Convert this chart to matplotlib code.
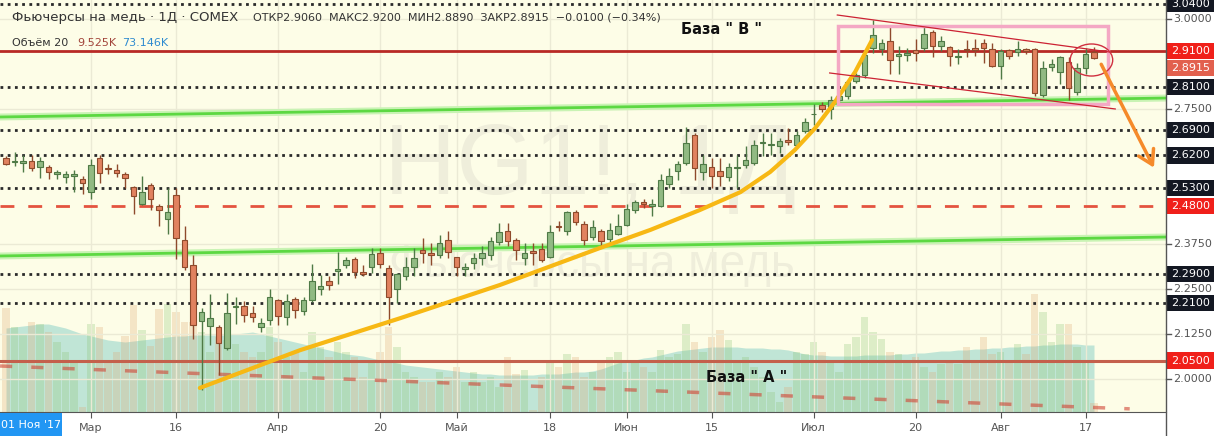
import matplotlib
matplotlib.use("Agg")
import matplotlib.pyplot as plt
import matplotlib.transforms as mtransforms
from matplotlib.patches import Rectangle, Ellipse, FancyArrowPatch
from matplotlib.lines import Line2D

# ---------------- data ----------------
opens = [2.613,2.602,2.600,2.604,2.588,2.588,2.568,2.561,2.564,2.555,
         2.519,2.613,2.585,2.579,2.568,2.532,2.486,2.538,2.479,2.442,
         2.509,2.384,2.315,2.160,2.146,2.144,2.085,2.200,2.201,2.183,
         2.142,2.164,2.218,2.171,2.220,2.188,2.218,2.248,2.271,2.300,
         2.316,2.332,2.297,2.311,2.350,2.307,2.249,2.284,2.309,2.356,
         2.348,2.344,2.385,2.339,2.305,2.321,2.334,2.343,2.379,2.411,
         2.384,2.334,2.355,2.360,2.339,2.425,2.411,2.462,2.429,2.392,
         2.409,2.388,2.403,2.428,2.467,2.491,2.480,2.480,2.540,2.576,
         2.599,2.677,2.574,2.587,2.577,2.560,2.584,2.592,2.599,2.654,
         2.648,2.645,2.664,2.648,2.687,2.734,2.760,2.749,2.774,2.785,
         2.826,2.842,2.919,2.916,2.937,2.895,2.898,2.913,2.919,2.963,
         2.924,2.922,2.892,2.916,2.919,2.933,2.916,2.869,2.913,2.907,
         2.916,2.916,2.787,2.865,2.851,2.880,2.796,2.862,2.906]
highs = [2.617,2.629,2.622,2.622,2.615,2.594,2.580,2.578,2.580,2.564,
         2.611,2.622,2.596,2.596,2.574,2.536,2.564,2.544,2.484,2.530,
         2.530,2.424,2.343,2.196,2.236,2.148,2.239,2.227,2.215,2.201,
         2.167,2.248,2.222,2.236,2.227,2.227,2.317,2.287,2.286,2.353,
         2.339,2.339,2.316,2.362,2.362,2.316,2.293,2.339,2.364,2.390,
         2.376,2.399,2.409,2.339,2.322,2.348,2.367,2.392,2.432,2.432,
         2.390,2.376,2.376,2.376,2.427,2.438,2.466,2.469,2.438,2.441,
         2.416,2.432,2.457,2.485,2.497,2.499,2.499,2.569,2.585,2.605,
         2.700,2.682,2.622,2.613,2.613,2.599,2.622,2.645,2.664,2.682,
         2.682,2.668,2.696,2.687,2.724,2.762,2.767,2.785,2.790,2.828,
         2.849,2.905,2.996,2.944,2.978,2.924,2.919,2.944,2.976,2.969,
         2.953,2.924,2.915,2.940,2.944,2.944,2.933,2.915,2.916,2.937,
         2.919,2.919,2.883,2.887,2.896,2.892,2.876,2.919,2.920]
lows = [2.592,2.590,2.574,2.576,2.557,2.555,2.555,2.542,2.518,2.512,
        2.499,2.544,2.569,2.559,2.530,2.456,2.482,2.468,2.424,2.401,
        2.332,2.301,2.111,1.968,2.093,2.010,2.079,2.153,2.156,2.156,
        2.130,2.150,2.150,2.148,2.167,2.178,2.213,2.232,2.246,2.262,
        2.307,2.279,2.286,2.293,2.307,2.149,2.209,2.274,2.284,2.321,
        2.316,2.334,2.334,2.286,2.284,2.305,2.316,2.330,2.371,2.367,
        2.330,2.316,2.316,2.325,2.334,2.409,2.399,2.427,2.371,2.385,
        2.367,2.380,2.399,2.425,2.459,2.475,2.451,2.478,2.529,2.552,
        2.594,2.552,2.552,2.529,2.534,2.548,2.529,2.585,2.594,2.617,
        2.622,2.626,2.650,2.645,2.682,2.705,2.740,2.722,2.766,2.778,
        2.820,2.835,2.905,2.898,2.846,2.846,2.883,2.883,2.910,2.892,
        2.910,2.869,2.874,2.892,2.896,2.878,2.865,2.833,2.887,2.896,
        2.901,2.785,2.783,2.855,2.819,2.773,2.787,2.846,2.889]
closes = [2.596,2.603,2.604,2.585,2.605,2.574,2.575,2.568,2.569,2.544,
          2.593,2.571,2.581,2.571,2.556,2.507,2.519,2.499,2.468,2.462,
          2.390,2.311,2.150,2.185,2.169,2.099,2.181,2.202,2.176,2.171,
          2.155,2.227,2.173,2.216,2.190,2.217,2.271,2.258,2.259,2.304,
          2.330,2.296,2.291,2.346,2.319,2.228,2.290,2.311,2.336,2.350,
          2.344,2.376,2.353,2.311,2.311,2.334,2.348,2.381,2.407,2.381,
          2.358,2.348,2.348,2.330,2.407,2.420,2.462,2.434,2.385,2.420,
          2.381,2.413,2.423,2.471,2.491,2.486,2.485,2.552,2.562,2.596,
          2.654,2.585,2.596,2.564,2.564,2.587,2.587,2.606,2.648,2.657,
          2.651,2.661,2.657,2.677,2.712,2.736,2.748,2.774,2.785,2.824,
          2.842,2.898,2.955,2.933,2.885,2.901,2.904,2.905,2.958,2.924,
          2.937,2.895,2.896,2.912,2.913,2.919,2.869,2.910,2.895,2.916,
          2.910,2.794,2.862,2.875,2.892,2.807,2.862,2.901,2.8915]
volume_k = [104,85,78,90,88,80,70,60,50,5,
            88,85,52,60,76,107,82,66,103,108,
            100,90,90,80,60,75,72,68,60,55,
            60,85,70,55,60,40,80,65,55,70,
            60,55,35,50,60,85,65,40,35,30,
            30,40,35,45,30,40,30,35,25,55,
            38,42,2,35,50,45,58,55,35,40,
            50,55,60,40,50,45,40,62,55,58,
            88,70,60,75,82,72,50,55,45,35,
            20,10,25,60,58,70,60,50,40,68,
            75,95,80,73,60,58,50,55,45,40,
            48,50,48,65,50,75,58,60,50,68,
            58,118,100,70,88,88,65,52,8.7]
volume_ma_k = [84,85,86,87,88,88,86,84,81,78,
               76,74,72,71,70,71,72,73,74,75,
               76,76,77,77,77,77,77,78,79,80,
               78,76,74,72,70,68,66,64,62,60,
               58,57,56,54,52,51,49,47,46,45,
               44,43,42,41,40,39,38,38,37,37,
               37,37,37,38,38,38,39,40,40,41,
               43,46,49,51,52,54,55,57,59,61,
               62,63,64,65,65,65,65,64,64,64,
               63,63,62,60,58,57,57,56,56,56,
               56,57,57,57,57,58,58,59,59,60,
               61,61,62,62,63,63,64,64,65,65,
               66,66,67,67,68,68,68,67,67]

tick_pos = [10, 20, 32, 44, 53, 64, 73, 83, 95, 107, 117, 127]
tick_labels = ['Мар', '16', 'Апр', '20', 'Май', '18', 'Июн', '15', 'Июл', '20', 'Авг', '17']

dotted_levels = [3.04, 2.81, 2.69, 2.62, 2.53, 2.29, 2.21]
red_solid_levels = [2.91, 2.05]
red_dashed_levels = [2.48]
grid_prices = [3.0, 2.75, 2.375, 2.25, 2.125, 2.0]

# drawings (index, price)
green_upper = ([-0.7, 136.5], [2.7267, 2.7794])
green_lower = ([-0.7, 136.5], [2.3406, 2.3933])
falling_dashed = ([-0.7, 132.2], [2.035, 1.916])
yellow_curve = ([22.8, 34.6, 46.4, 58.1, 69.9, 75.8, 81.6, 86.4, 89.9, 92.8, 95.2, 97.5, 99.9, 101.9],
                [1.974, 2.079, 2.168, 2.260, 2.363, 2.413, 2.468, 2.518, 2.574, 2.635, 2.696, 2.768, 2.852, 2.941])
channel_upper = ([97.8, 129.9], [3.010, 2.907])
channel_lower = ([96.9, 130.5], [2.849, 2.749])
base_box = (97.9, 2.763, 31.7, 0.216)
circle = (127.7, 2.885, 5.0, 0.089)
arrow = ((128.7, 2.88), (135.2, 2.579))

# right axis labels: (price, text, bg colour or None, shown y)
price_labels = [
    (3.04, '3.0400', '#131722', 3.04),
    (3.00, '3.0000', None, 3.00),
    (2.91, '2.9100', '#f0201a', 2.91),
    (2.8915, '2.8915', '#e2604e', 2.863),
    (2.81, '2.8100', '#131722', 2.81),
    (2.75, '2.7500', None, 2.75),
    (2.69, '2.6900', '#131722', 2.69),
    (2.62, '2.6200', '#131722', 2.62),
    (2.53, '2.5300', '#131722', 2.53),
    (2.48, '2.4800', '#f0201a', 2.48),
    (2.375, '2.3750', None, 2.375),
    (2.29, '2.2900', '#131722', 2.29),
    (2.25, '2.2500', None, 2.25),
    (2.21, '2.2100', '#131722', 2.21),
    (2.125, '2.1250', None, 2.125),
    (2.05, '2.0500', '#f0201a', 2.05),
    (2.00, '2.0000', None, 2.00),
]

# ---------------- figure ----------------
W, H = 1214, 436
BG = '#fdfde7'
plt.rcParams['font.family'] = ['DejaVu Sans']
fig = plt.figure(figsize=(W / 100, H / 100), dpi=100, facecolor='white')
ax = fig.add_axes([0, 24 / H, 1166 / W, 412 / H])
axv = ax.twinx()
ax.set_zorder(axv.get_zorder() + 1)
ax.patch.set_visible(False)
axv.patch.set_visible(True)
axv.patch.set_facecolor(BG)

n = len(closes)
xs = list(range(n))
ax.set_xlim(-0.706, 136.47)
ax.set_ylim(1.9072, 3.0517)
axv.set_ylim(0, 412)

# grid
for t in tick_pos:
    ax.axvline(t, color='#ebead5', lw=1, zorder=0)
for p in grid_prices:
    ax.axhline(p, color='#ebead5', lw=1, zorder=0)

# volume
axv.fill_between(xs, 0, volume_ma_k, color='#6cc6bf', alpha=0.42, lw=0, zorder=1)
vcol = ['#8cc474' if c >= o else '#e0a772' for o, c in zip(opens, closes)]
axv.bar(xs, volume_k, width=0.85, color=vcol, alpha=0.28, lw=0, zorder=2)

# watermark
ax.text(68.7, 2.585, 'HG1!, 1Д', fontsize=72, color='#efeedb', ha='center', va='center',
        family=['Liberation Sans', 'DejaVu Sans'], zorder=0.5)
ax.text(68.9, 2.316, 'Фьючерсы на медь', fontsize=33, color='#efeedb', ha='center', va='center',
        family=['Liberation Sans', 'DejaVu Sans'], zorder=0.5)

# level lines
for p in dotted_levels:
    ax.axhline(p, color='#2a2a2a', lw=2, ls=(0, (1, 1.6)), zorder=3)
ax.axhline(red_solid_levels[0], color='#b82a25', lw=2, zorder=3)
ax.axhline(red_solid_levels[1], color='#c4604c', lw=2.2, zorder=3)
for p in red_dashed_levels:
    ax.axhline(p, color='#e4533f', lw=2, ls=(0, (5, 5)), zorder=3)

for gx, gy in (green_upper, green_lower):
    ax.plot(gx, gy, color='#c9f3b4', lw=5, zorder=3)
    ax.plot(gx, gy, color='#5cd842', lw=2, zorder=3.1)
ax.plot(*falling_dashed, color='#d04535', alpha=0.6, lw=2.5, ls=(0, (3.5, 5.5)), zorder=3)

# candles
for i in range(n):
    o, h, l, c = opens[i], highs[i], lows[i], closes[i]
    up = c >= o
    fc = '#91ba83' if up else '#e1825f'
    ec = '#4f7a46' if up else '#8e4a2c'
    ax.vlines(i, l, h, color=ec, lw=1, zorder=4)
    ax.add_patch(Rectangle((i - 0.35, min(o, c)), 0.7, max(abs(c - o), 0.0015),
                           facecolor=fc, edgecolor=ec, lw=0.8, zorder=5))

# drawings
ax.plot(*yellow_curve, color='#f7b814', lw=3, zorder=6, solid_capstyle='round', solid_joinstyle='round')
bx, by, bw, bh = base_box
ax.add_patch(Rectangle((bx, by), bw, bh, fill=False, edgecolor='#f4a8c4', lw=2.5, zorder=6))
ax.plot(*channel_upper, color='#cc2233', lw=0.9, zorder=6)
ax.plot(*channel_lower, color='#cc2233', lw=0.9, zorder=6)
cx, cy, cw, ch = circle
ax.add_patch(Ellipse((cx, cy), cw, ch, fill=False, edgecolor='#d03040', lw=1, zorder=6))
ax.add_patch(FancyArrowPatch(arrow[0], arrow[1], arrowstyle='->,head_length=0.5,head_width=0.3',
                             mutation_scale=20, color='#f58a2a', lw=2.5, zorder=6))

ax.text(84.2, 2.971, 'База " В "', fontsize=10.5, fontweight='bold', color='#111111',
        ha='center', va='center', zorder=7)
ax.text(87.1, 2.002, 'База " A "', fontsize=10.5, fontweight='bold', color='#111111',
        ha='center', va='center', zorder=7)

# axes styling
for s in ('top', 'left', 'right'):
    ax.spines[s].set_visible(False)
for s in axv.spines.values():
    s.set_visible(False)
ax.spines['bottom'].set_color('#555555')
ax.set_yticks([])
axv.set_yticks([])
ax.set_xticks(tick_pos)
ax.set_xticklabels(tick_labels, fontsize=8, color='#555555')
ax.tick_params(axis='x', length=4, color='#555555', pad=4)

fig.add_artist(Line2D([1166 / W, 1166 / W], [0, 1], transform=fig.transFigure, color='#555555', lw=1))

# right price scale
trans = mtransforms.blended_transform_factory(fig.transFigure, ax.transData)
for p, txt, bg, shown in price_labels:
    if bg is None:
        fig.add_artist(Line2D([1166 / W, 1171 / W], [p, p], transform=trans, color='#555555', lw=1))
        ax.text(1173 / W, shown, txt, transform=trans, fontsize=8, color='#555555',
                ha='left', va='center', clip_on=False)
    else:
        fig.add_artist(Rectangle((1167 / W, shown - 0.0225), 47 / W, 0.045, transform=trans,
                                 facecolor=bg, edgecolor='none'))
        ax.text(1190.5 / W, shown, txt, transform=trans, fontsize=8, color='white',
                ha='center', va='center', clip_on=False, zorder=10)

# date badge
fig.add_artist(Rectangle((0, 0), 62 / W, 23 / H, transform=fig.transFigure,
                         facecolor='#2196f3', edgecolor='none', zorder=10))
fig.text(31 / W, 11.5 / H, "01 Ноя '17", color='white', fontsize=8, ha='center', va='center', zorder=11)

# legend header
fig.text(12 / W, 1 - 18 / H, 'Фьючерсы на медь · 1Д · COMEX', fontsize=9.5, color='#333333',
         ha='left', va='center')
fig.text(253 / W, 1 - 18 / H, 'ОТКР2.9060  МАКС2.9200  МИН2.8890  ЗАКР2.8915  −0.0100 (−0.34%)',
         fontsize=8, color='#333333', ha='left', va='center')
fig.text(12 / W, 1 - 43 / H, 'Объём 20', fontsize=8, color='#333333', ha='left', va='center')
fig.text(77 / W, 1 - 43 / H, '9.525K', fontsize=8, color='#a2443a', ha='left', va='center')
fig.text(122 / W, 1 - 43 / H, '73.146K', fontsize=8, color='#2e8bd0', ha='left', va='center')

fig.savefig('out.png', dpi=100, facecolor=fig.get_facecolor())
